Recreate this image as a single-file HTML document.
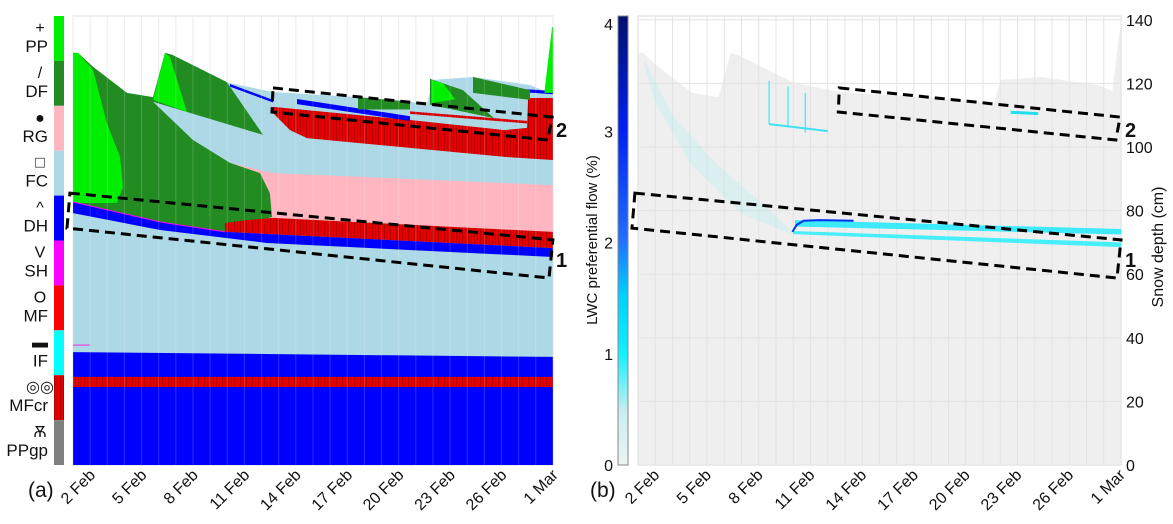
<!DOCTYPE html>
<html><head><meta charset="utf-8"><style>
html,body{margin:0;padding:0;background:#fff;}
svg{display:block;font-family:"Liberation Sans",sans-serif;}
</style></head><body>
<svg id="fig" width="1173" height="524" viewBox="0 0 1173 524" xmlns="http://www.w3.org/2000/svg">
<defs>
<pattern id="redHatch" width="3" height="10" patternUnits="userSpaceOnUse"><rect width="3" height="10" fill="#e80000"/><rect width="1" height="10" fill="#b00000"/></pattern>
<linearGradient id="cbGrad" x1="0" y1="1" x2="0" y2="0">
<stop offset="0" stop-color="#eef3f3"/><stop offset="0.12" stop-color="#c8eef0"/><stop offset="0.25" stop-color="#10f0ff"/><stop offset="0.38" stop-color="#00d0ff"/><stop offset="0.5" stop-color="#2070ff"/><stop offset="0.75" stop-color="#0020f0"/><stop offset="1" stop-color="#001070"/>
</linearGradient>
<clipPath id="clipA"><rect x="73" y="16" width="480" height="449"/></clipPath>
<clipPath id="clipB"><rect x="638" y="16" width="483" height="449"/></clipPath>
</defs>
<g id="legend"></g>
<g id="panelA"></g>
<g id="panelB"></g>
</svg>
<script>
// ---- data ----
const dateLabels = ["2 Feb","5 Feb","8 Feb","11 Feb","14 Feb","17 Feb","20 Feb","23 Feb","26 Feb","1 Mar"];
const dateDays = [1,4,7,10,13,16,19,22,25,28];
const legendNames = ["PP","DF","RG","FC","DH","SH","MF","IF","MFcr","PPgp"];
const legendSymbols = ["+","/","●","□","^","V","O","▬","◎◎","Ѫ"];
const legendColors = ["#00ee00","#228b22","#ffb6c1","#add8e6","#0000ff","#ff00ff","#ff0000","#00ffff","url(#redHatch)","#808080"];
const depthTicks = [0,20,40,60,80,100,120,140];
const lwcTicks = [0,1,2,3,4];

const surfDays = [0,0,0.29,1.17,3.15,4.67,5.37,5.78,8.98,9.16,11.67,16.63,19.66,20.65,21.0,23.34,26.66,27.5,27.95,28,28];
const surfCm   = [0,129.6,129.6,125.2,117,115.7,129.6,129,120.4,120.1,117.3,115.7,114.2,113.3,121.1,122,119.5,117.6,137.7,137.7,0];
const pinkDays = [9.16,11.67,28,28,11.67,8.87];
const pinkCm   = [95,91.8,88,73.3,77.7,75.2];
const df1Days  = [0,0.29,1.17,3.15,4.67,4.67,7.0,9.16,10.91,11.49,11.61,8.87,5.08,0];
const df1Cm    = [129.6,129.6,125.2,117,115.7,114.2,102.2,95,91.8,85.5,78,73.3,76.4,82.7];
const pp1Days  = [0,0,0.29,1.17,1.98,2.74,2.92,2.57];
const pp1Cm    = [82.4,129.6,129.6,124.2,107.5,96.9,87.4,82.4];
const df2Days  = [4.67,4.67,5.37,5.78,8.98,11.09];
const df2Cm    = [114.2,115.7,129.6,129,120.4,103.8];
const pp2Days  = [4.67,5.37,5.66,6.65];
const pp2Cm    = [114.8,129.6,128.3,111];
const redLoDays = [8.87,10.15,11.67,28,28,8.87];
const redLoCm   = [76.1,77,77.7,73.3,68.2,73.3];
const dhDays = [0,5.08,8.87,28,28,11.32,5.08,0];
const dhCm   = [82.7,76.4,73.3,68.2,65.4,69.8,73.9,79.2];
const redUpDays = [11.67,19.66,25.2,26.49,26.55,28,28,25.2,13.65,12.66,11.67];
const redUpCm   = [112.6,108.5,105.3,106,115.4,115.4,95.9,96.9,102.8,105.3,110.7];
const blueUp1Days = [13.07,19.66,19.66,13.07];
const blueUp1Cm   = [115.1,109.7,108.2,113.5];
const blueUp2Days = [9.16,11.67,11.67,9.16];
const blueUp2Cm   = [119.8,114.8,114,119];
const blueUp3Days = [25.5,28,28,25.5];
const blueUp3Cm   = [118.5,117.6,116.6,117.5];
const dfPatchDays = [16.63,19.66,19.66,16.63];
const dfPatchCm   = [115.7,114.2,111.8,111.8];
const dfNewADays = [20.83,22.75,24.56,20.83];
const dfNewACm   = [121.4,117.9,109.1,113.3];
const dfNewBDays = [23.34,26.66,26.66,23.34];
const dfNewBCm   = [122,117.9,114.8,117];
const ppNewDays = [20.9,21.6,22.3,20.9];
const ppNewCm   = [121.1,120,115,113.8];
const ppSpikeDays = [27.5,27.95,28,28];
const ppSpikeCm   = [117,137.7,137.7,117];
const redStripeDays = [19.66,26.5,26.5,19.66];
const redStripeCm   = [111.2,108.2,107.4,110.4];
const baseLayerCm = [24.5,27.7,35.5,34];
const box1Days = [-0.18,28,27.77,-0.35];
const box1Cm   = [85.5,70.8,58.8,74.5];
const box2Days = [11.67,27.95,27.7,11.61];
const box2Cm   = [118.6,109.4,102.2,111];
// panel b flow features
const fanDays = [0.4,2,4.5,7,8.9,8.9,6,3,1,0.4];
const fanCm   = [127,110,95,83,74,72.5,79,95,114,125];
const bandADays = [9.1,28];
const bandATop  = [77,74.2];
const bandABot  = [75,72.5];
const bandBDays = [9.0,28];
const bandBTop  = [73.6,70];
const bandBBot  = [72.6,68.5];
const blueCurveDays = [8.95,9.2,9.6,10.5,12.5];
const blueCurveCm   = [73.3,75.5,76.8,77,76.8];
const vertFlowDays = [7.6,8.7,9.7];
const vertFlowTop = [120.8,119,117];
const vertFlowBot = [107.2,106.5,104.5];
const spotDays = [21.6,23.2];
const spotCm   = [110.9,110.5];

// ---- scales ----
const yS = c => 465 - c*3.18;
const xA = d => 73 + d*17.14;
const xB = d => 638 + d*17.25;
const yL = v => 465 - v*111.25;
const NS = "http://www.w3.org/2000/svg";
function mk(tag, attrs, parent){const e=document.createElementNS(NS,tag);for(const k in attrs)e.setAttribute(k,attrs[k]);parent.appendChild(e);return e;}
function pts(days, cms, xs){return days.map((d,i)=>xs(d).toFixed(1)+","+yS(cms[i]).toFixed(1)).join(" ");}
function bandPts(days, top, bot, xs){const a=days.map((d,i)=>xs(d)+","+yS(top[i]));const b=days.map((d,i)=>xs(d)+","+yS(bot[i])).reverse();return a.concat(b).join(" ");}

// ---- legend ----
const lg = document.getElementById("legend");
legendNames.forEach((n,i)=>{
  const y0 = 16 + i*44.9;
  const r = mk("rect",{x:54,y:y0,width:10,height:44.9,fill:legendColors[i]},lg);
  
  
  const s = mk("text",{x:40,y:y0+17,"font-size":16,"text-anchor":"middle",fill:"#111"},lg);
  s.textContent = legendSymbols[i];
  
  
  const t = mk("text",{x:48,y:y0+36,"font-size":17,"text-anchor":"end",fill:"#111"},lg);
  t.textContent = n;
  
  
});

// ---- panel A ----
const pa = document.getElementById("panelA");
mk("rect",{x:73,y:16,width:480,height:449,fill:"#fff",stroke:"#ddd"},pa);
for(let d=0; d<=28; d++){const l=mk("line",{x1:xA(d),x2:xA(d),y1:16,y2:465,stroke:"#e8e8e8"},pa);}
const ga = mk("g",{"clip-path":"url(#clipA)"},pa);
function polyA(days,cms,fill,name){const p=mk("polygon",{points:pts(days,cms,xA),fill:fill},ga);return p;}
polyA(surfDays,surfCm,"#add8e6","fc-snowpack");
polyA(pinkDays,pinkCm,"#ffb6c1","rg-layer");
polyA(df1Days,df1Cm,"#228b22","df-layer-1");
polyA(pp1Days,pp1Cm,"#00ee00","pp-layer-1");
polyA(df2Days,df2Cm,"#228b22","df-layer-2");
polyA(pp2Days,pp2Cm,"#00ee00","pp-layer-2");
polyA(redLoDays,redLoCm,"url(#redHatch)","mf-layer-lower");
polyA(dhDays,dhCm,"#0000ff","dh-layer");
polyA(redUpDays,redUpCm,"url(#redHatch)","mf-layer-upper");
polyA(redStripeDays,redStripeCm,"url(#redHatch)","mf-stripe");
polyA(blueUp1Days,blueUp1Cm,"#0000ff","dh-upper-1");
polyA(blueUp2Days,blueUp2Cm,"#0000ff","dh-upper-2");
polyA(blueUp3Days,blueUp3Cm,"#0000ff","dh-upper-3");
polyA(dfPatchDays,dfPatchCm,"#228b22","df-patch");
polyA(dfNewADays,dfNewACm,"#228b22","df-new-a");
polyA(dfNewBDays,dfNewBCm,"#228b22","df-new-b");
polyA(ppNewDays,ppNewCm,"#00ee00","pp-new");
polyA(ppSpikeDays,ppSpikeCm,"#00ee00","pp-spike");
polyA([0,28,28,0],[baseLayerCm[2],baseLayerCm[3],0,0],"#0000ff","dh-base");
polyA([0,28,28,0],[baseLayerCm[1],baseLayerCm[1],baseLayerCm[0],baseLayerCm[0]],"url(#redHatch)","mfcr-base");
polyA([0,28,28,0],[baseLayerCm[0],baseLayerCm[0],0,0],"#0000ff","dh-bottom");
const mg = mk("polyline",{points:pts([0,5.08,8.87],[82.7,76.4,73.3],xA),fill:"none",stroke:"#ff00ff","stroke-width":1},ga);

const mg2 = mk("line",{x1:xA(0),x2:xA(1),y1:yS(37.7),y2:yS(37.7),stroke:"#e060e0","stroke-width":1.5},ga);

for(let d=0; d<=28; d++){mk("line",{x1:xA(d),x2:xA(d),y1:16,y2:465,stroke:"rgba(255,255,255,0.18)"},ga);}
function box(days,cms,xs,parent,name){const p=mk("polygon",{points:pts(days,cms,xs),fill:"none",stroke:"#000","stroke-width":3,"stroke-dasharray":"10,6"},parent);}
box(box1Days,box1Cm,xA,pa,"box-1-a");
box(box2Days,box2Cm,xA,pa,"box-2-a");
function boxLabel(txt,x,y,parent,name){const t=mk("text",{x:x,y:y,"font-size":20,"font-weight":"bold",fill:"#111"},parent);t.textContent=txt;}
boxLabel("1",556,267,pa,"box-1-label-a");
boxLabel("2",556,137,pa,"box-2-label-a");
function dateAxis(xs,parent,suffix,off){dateDays.forEach((d,i)=>{const x=xs(d)+off,y=476;const t=mk("text",{x:x,y:y,"font-size":16,"text-anchor":"end",fill:"#111",transform:`rotate(-45 ${x} ${y})`},parent);t.textContent=dateLabels[i];});}
dateAxis(xA,pa,"a",6);
const la = mk("text",{x:28,y:497,"font-size":21,fill:"#111"},pa);la.textContent="(a)";

// ---- panel B ----
const pb = document.getElementById("panelB");
mk("rect",{x:638,y:16,width:483,height:449,fill:"#fff",stroke:"#d8d8d8"},pb);
const gb = mk("g",{"clip-path":"url(#clipB)"},pb);
const snowB = mk("polygon",{points:pts(surfDays,surfCm,xB),fill:"#efefef"},gb);

for(let d=0; d<=28; d++){mk("line",{x1:xB(d),x2:xB(d),y1:16,y2:465,stroke:"#e3e3e3"},gb);}
depthTicks.forEach(c=>{mk("line",{x1:638,x2:1121,y1:yS(c),y2:yS(c),stroke:"#e3e3e3"},gb);});
const fan = mk("polygon",{points:pts(fanDays,fanCm,xB),fill:"#80eef5","fill-opacity":0.18},gb);

const bA = mk("polygon",{points:bandPts(bandADays,bandATop,bandABot,xB),fill:"#00e8ff","fill-opacity":0.75},gb);

const bB = mk("polygon",{points:bandPts(bandBDays,bandBTop,bandBBot,xB),fill:"#00f0ff","fill-opacity":0.7},gb);

const bc = mk("polyline",{points:pts(blueCurveDays,blueCurveCm,xB),fill:"none",stroke:"#0033ee","stroke-width":2},gb);

vertFlowDays.forEach((d,i)=>{const l=mk("line",{x1:xB(d),x2:xB(d),y1:yS(vertFlowTop[i]),y2:yS(vertFlowBot[i]),stroke:"#60e8f5","stroke-width":1.5},gb);});
const hf = mk("line",{x1:xB(7.6),x2:xB(11),y1:yS(107.2),y2:yS(105),stroke:"#40e0f0","stroke-width":2},gb);

const sp = mk("polyline",{points:pts(spotDays,spotCm,xB),fill:"none",stroke:"#20e0f0","stroke-width":3},gb);

box(box1Days,box1Cm,xB,pb,"box-1-b");
box(box2Days,box2Cm,xB,pb,"box-2-b");
boxLabel("1",1125,267,pb,"box-1-label-b");
boxLabel("2",1125,137,pb,"box-2-label-b");
depthTicks.forEach(c=>{const t=mk("text",{x:1126,y:yS(c)+6,"font-size":16,fill:"#111"},pb);t.textContent=c;});
const rt = mk("text",{x:1163,y:247,"font-size":16,"text-anchor":"middle",fill:"#111",transform:"rotate(-90 1163 247)"},pb);
rt.textContent="Snow depth (cm)";
const cb = mk("rect",{x:618,y:16,width:10,height:449,fill:"url(#cbGrad)",stroke:"#888","stroke-width":1},pb);

lwcTicks.forEach(v=>{const t=mk("text",{x:613,y:yL(v)+(v===4?10:6),"font-size":16,"text-anchor":"end",fill:"#111"},pb);t.textContent=v;});
const lt = mk("text",{x:597,y:240,"font-size":15,"text-anchor":"middle",fill:"#111",transform:"rotate(-90 597 240)"},pb);
lt.textContent="LWC preferential  flow (%)";
dateAxis(xB,pb,"b",5);
const lb = mk("text",{x:590,y:497,"font-size":21,fill:"#111"},pb);lb.textContent="(b)";
</script>
</body></html>
